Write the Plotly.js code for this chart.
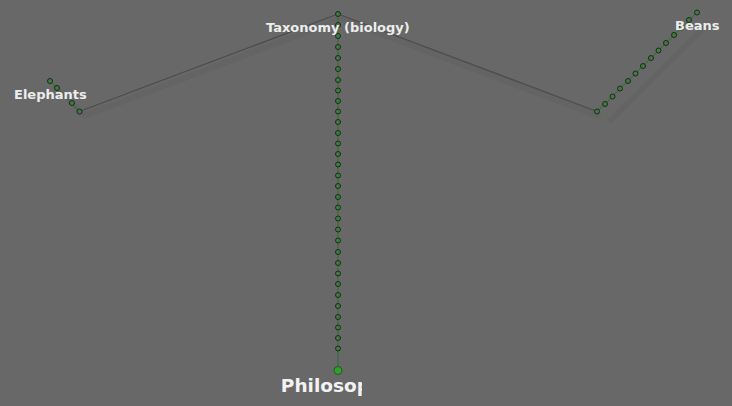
<!DOCTYPE html>
<html><head><meta charset="utf-8">
<script src="https://cdn.plot.ly/plotly-3.0.1.min.js"></script>
<style>html,body{margin:0;padding:0;background:#686868;}#chart{width:732px;height:406px;}</style>
</head><body><div id="chart"></div>
<script>
// Node layout (graph positions)
const elephantsX = [50, 57, 72, 79.5];
const elephantsY = [81, 88, 103, 111.5];
const taxonomyX = 338, taxonomyY = 14;
const pathY = [14, 25, 36, 47, 58, 69, 80, 90.5, 101, 111.5, 122, 133, 143.5, 154, 164.5, 175.5, 186, 197, 207.5, 218.5, 229.5, 240.5, 252, 263, 273.5, 284, 295, 306, 317, 327.5, 338, 348.5];
const philosophyX = 338, philosophyY = 370.5;
const beansX = [597, 605, 612.5, 620, 628, 635.5, 643, 651, 658.5, 666, 674, 681.5, 689, 697];
const beansY = [111.5, 104, 96.5, 88.5, 81, 73.5, 66, 58, 50.5, 43, 35, 27.5, 20, 12.5];
const labels = ['Elephants', 'Taxonomy (biology)', 'Beans', 'Philosophy'];

const pathX = pathY.map(() => taxonomyX);
const bg = '#686868';
const nodeMarker = {size: 5, color: '#3f7a3f', line: {color: '#1c2a1c', width: 1}};
const chainLine = {color: '#2f6a2f', width: 1};
const grayLine = {color: '#4c4c4c', width: 1.3};
const shadowLine = {color: 'rgba(50,50,50,0.07)', width: 6};
const sh = (a, d) => a.map(v => v + d);

const traces = [
  // soft shadows
  {x: sh([elephantsX[3], taxonomyX, beansX[0]], 3), y: sh([elephantsY[3], taxonomyY, beansY[0]], 5), mode: 'lines', line: shadowLine, hoverinfo: 'skip'},
  {x: sh(beansX, 12), y: sh(beansY, 10), mode: 'lines', line: shadowLine, hoverinfo: 'skip'},
  {x: sh(elephantsX, 4), y: sh(elephantsY, 4), mode: 'lines', line: shadowLine, hoverinfo: 'skip'},
  // gray connectors
  {x: [elephantsX[3], taxonomyX], y: [elephantsY[3], taxonomyY], mode: 'lines', line: grayLine, hoverinfo: 'skip'},
  {x: [taxonomyX, beansX[0]], y: [taxonomyY, beansY[0]], mode: 'lines', line: grayLine, hoverinfo: 'skip'},
  // chains
  {x: elephantsX, y: elephantsY, mode: 'lines+markers', line: chainLine, marker: nodeMarker},
  {x: pathX.concat([philosophyX]), y: pathY.concat([philosophyY]), mode: 'lines', line: chainLine},
  {x: pathX, y: pathY, mode: 'markers', marker: nodeMarker},
  {x: beansX, y: beansY, mode: 'lines+markers', line: chainLine, marker: nodeMarker},
  {x: [philosophyX], y: [philosophyY], mode: 'markers', marker: {size: 8, color: '#2ea02e', line: {color: '#1f5a1f', width: 1}}},
  // clipped Philosophy label
  {x: [philosophyX], y: [philosophyY + 17], mode: 'text', text: [labels[3]], textposition: 'middle center',
   textfont: {family: 'DejaVu Sans', size: 18.5, color: '#f2f2f2', weight: 'bold'}, cliponaxis: true, xaxis: 'x2', yaxis: 'y2'}
];

const lblFont = {family: 'DejaVu Sans', size: 13, color: '#ededed', weight: 'bold'};
const ann = (x, y, t) => ({x, y, text: t, showarrow: false, xanchor: 'center', yanchor: 'middle', yshift: -13, font: lblFont, xref: 'x', yref: 'y'});

const layout = {
  width: 732, height: 406,
  margin: {l: 0, r: 0, t: 0, b: 0},
  paper_bgcolor: bg, plot_bgcolor: 'rgba(0,0,0,0)',
  showlegend: false,
  xaxis: {range: [0, 732], visible: false, fixedrange: true},
  yaxis: {range: [406, 0], visible: false, fixedrange: true},
  xaxis2: {range: [0, 362], domain: [0, 362 / 732], visible: false, anchor: 'y2'},
  yaxis2: {range: [406, 0], domain: [0, 1], visible: false, anchor: 'x2'},
  annotations: [
    ann(elephantsX[0], elephantsY[0], labels[0]),
    ann(taxonomyX, taxonomyY, labels[1]),
    ann(beansX[beansX.length - 1], beansY[beansY.length - 1], labels[2])
  ]
};
Plotly.newPlot('chart', traces, layout, {displayModeBar: false, staticPlot: true});
</script></body></html>
